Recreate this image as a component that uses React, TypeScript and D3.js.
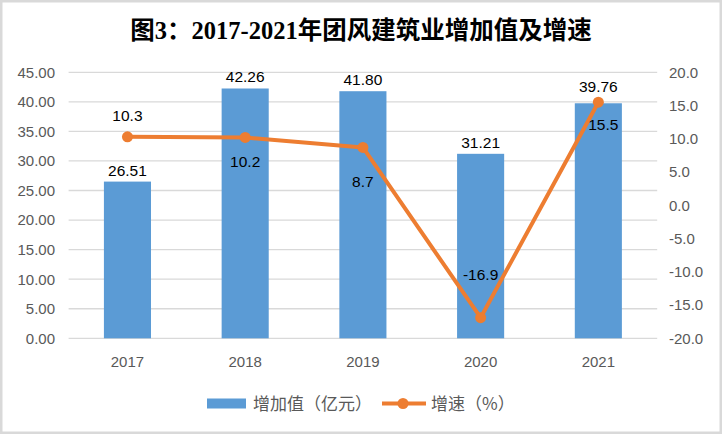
import { useRef, useEffect } from 'react';
import * as d3 from 'd3';

const years = ['2017', '2018', '2019', '2020', '2021'];
const addedValue = [26.51, 42.26, 41.8, 31.21, 39.76];
const growthRate = [10.3, 10.2, 8.7, -16.9, 15.5];
const leftTicks = [0, 5, 10, 15, 20, 25, 30, 35, 40, 45];
const rightTicks = [-20, -15, -10, -5, 0, 5, 10, 15, 20];

// label nudges (px) for the growth labels, as placed in the source chart
const rateLabelDx = [0, 0, 0, 0, 5];
const rateLabelDy = [-16, 30, 40, -38, 28];
const barLabelDy = [-6, -6, -6, -6, -11];

const width = 722;
const height = 434;
const blue = '#5B9BD5';
const orange = '#ED7D31';
const grey = '#595959';
const labelFont = "'Liberation Sans', Arial, sans-serif";
const cjkFont = "'Noto Sans CJK SC', sans-serif";

export default function App() {
  const svgRef = useRef<SVGSVGElement>(null);

  useEffect(() => {
    document.body.style.margin = '0';
    if (!svgRef.current) return;
    const svg = d3.select(svgRef.current);
    svg.selectAll('*').remove();

    const plot = { left: 68.6, right: 657.2, top: 72.3, bottom: 338.3 };

    const x = d3.scaleBand<string>()
      .domain(years)
      .range([plot.left, plot.right])
      .paddingInner(0.6)
      .paddingOuter(0.3);
    const yLeft = d3.scaleLinear().domain([0, 45]).range([plot.bottom, plot.top]);
    const yRight = d3.scaleLinear().domain([-20, 20]).range([plot.bottom, plot.top]);

    // background + frame
    svg.append('rect')
      .attr('x', 1.25).attr('y', 1.25)
      .attr('width', width - 2.5).attr('height', height - 2.5)
      .attr('fill', '#fff')
      .attr('stroke', '#d9d9d9')
      .attr('stroke-width', 2.5);

    // title
    svg.append('text')
      .attr('x', 361)
      .attr('y', 39)
      .attr('text-anchor', 'middle')
      .attr('font-family', "'Liberation Serif', 'Noto Sans CJK SC', serif")
      .attr('font-weight', 'bold')
      .attr('font-size', 24.5)
      .attr('fill', '#000')
      .text('图3：2017-2021年团风建筑业增加值及增速');

    // gridlines
    svg.append('g')
      .selectAll('line')
      .data(leftTicks)
      .join('line')
      .attr('x1', plot.left)
      .attr('x2', plot.right)
      .attr('y1', d => yLeft(d))
      .attr('y2', d => yLeft(d))
      .attr('stroke', '#d9d9d9')
      .attr('stroke-width', 1.3);

    // left axis labels
    svg.append('g')
      .selectAll('text')
      .data(leftTicks)
      .join('text')
      .attr('x', 55)
      .attr('y', d => yLeft(d))
      .attr('dy', '0.36em')
      .attr('text-anchor', 'end')
      .attr('font-family', labelFont)
      .attr('font-size', 15)
      .attr('fill', grey)
      .text(d => d.toFixed(2));

    // right axis labels
    svg.append('g')
      .selectAll('text')
      .data(rightTicks)
      .join('text')
      .attr('x', 669)
      .attr('y', d => yRight(d))
      .attr('dy', '0.36em')
      .attr('text-anchor', 'start')
      .attr('font-family', labelFont)
      .attr('font-size', 15)
      .attr('fill', grey)
      .text(d => d.toFixed(1));

    // category labels
    svg.append('g')
      .selectAll('text')
      .data(years)
      .join('text')
      .attr('x', d => (x(d) ?? 0) + x.bandwidth() / 2)
      .attr('y', 367)
      .attr('text-anchor', 'middle')
      .attr('font-family', labelFont)
      .attr('font-size', 15)
      .attr('fill', grey)
      .text(d => d);

    // bars
    svg.append('g')
      .selectAll('rect')
      .data(addedValue)
      .join('rect')
      .attr('x', (_, i) => x(years[i]) ?? 0)
      .attr('y', d => yLeft(d))
      .attr('width', x.bandwidth())
      .attr('height', d => plot.bottom - yLeft(d))
      .attr('fill', blue);

    // bar labels
    svg.append('g')
      .selectAll('text')
      .data(addedValue)
      .join('text')
      .attr('x', (_, i) => (x(years[i]) ?? 0) + x.bandwidth() / 2)
      .attr('y', (d, i) => yLeft(d) + barLabelDy[i])
      .attr('text-anchor', 'middle')
      .attr('font-family', labelFont)
      .attr('font-size', 15.5)
      .attr('fill', '#000')
      .text(d => d.toFixed(2));

    // growth line
    const cx = (i: number) => (x(years[i]) ?? 0) + x.bandwidth() / 2;
    const line = d3.line<number>()
      .x((_, i) => cx(i))
      .y(d => yRight(d));

    svg.append('path')
      .datum(growthRate)
      .attr('d', line)
      .attr('fill', 'none')
      .attr('stroke', orange)
      .attr('stroke-width', 4)
      .attr('stroke-linejoin', 'round');

    svg.append('g')
      .selectAll('circle')
      .data(growthRate)
      .join('circle')
      .attr('cx', (_, i) => cx(i))
      .attr('cy', d => yRight(d))
      .attr('r', 5.5)
      .attr('fill', orange);

    svg.append('g')
      .selectAll('text')
      .data(growthRate)
      .join('text')
      .attr('x', (_, i) => cx(i) + rateLabelDx[i])
      .attr('y', (d, i) => yRight(d) + rateLabelDy[i])
      .attr('text-anchor', 'middle')
      .attr('font-family', labelFont)
      .attr('font-size', 15.5)
      .attr('fill', '#000')
      .text(d => d.toFixed(1));

    // legend
    const legend = svg.append('g');
    legend.append('rect')
      .attr('x', 207).attr('y', 398.5)
      .attr('width', 39).attr('height', 10)
      .attr('fill', blue);
    legend.append('text')
      .attr('x', 253).attr('y', 409.5)
      .attr('font-family', cjkFont)
      .attr('font-size', 17)
      .attr('fill', grey)
      .text('增加值（亿元）');
    legend.append('line')
      .attr('x1', 382).attr('x2', 426)
      .attr('y1', 403.5).attr('y2', 403.5)
      .attr('stroke', orange)
      .attr('stroke-width', 4);
    legend.append('circle')
      .attr('cx', 403).attr('cy', 403.5)
      .attr('r', 5.5)
      .attr('fill', orange);
    legend.append('text')
      .attr('x', 431).attr('y', 409.5)
      .attr('font-family', cjkFont)
      .attr('font-size', 17)
      .attr('fill', grey)
      .text('增速（%）');
  }, []);

  return <svg ref={svgRef} width={width} height={height} style={{ display: 'block' }} />;
}
